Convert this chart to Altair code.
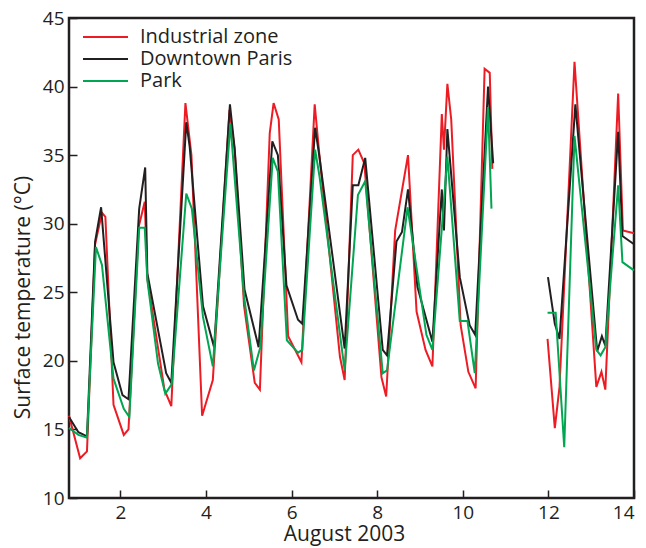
import altair as alt
import pandas as pd

series_names = ["Industrial zone", "Downtown Paris", "Park"]
series_colors = ["#ed1c24", "#231f20", "#00a651"]

industrial_day = [0.80, 1.06, 1.22, 1.41, 1.57, 1.65, 1.84, 2.08, 2.19, 2.43, 2.57, 2.63, 3.03, 3.19,
                  3.52, 3.66, 3.91, 4.16, 4.55, 4.67, 4.89, 5.14, 5.26, 5.49, 5.58, 5.70, 5.92, 6.23,
                  6.54, 6.65, 7.13, 7.24, 7.43, 7.56, 7.70, 8.10, 8.21, 8.42, 8.72, 8.92, 9.13, 9.29,
                  9.51, 9.56, 9.64, 9.73, 9.95, 10.13, 10.30, 10.51, 10.63, 10.69,
                  11.98, 12.15, 12.26, 12.61, 13.12, 13.24, 13.33, 13.63, 13.74, 14.0]
industrial_temp = [16.0, 12.9, 13.4, 28.5, 30.8, 30.5, 16.8, 14.6, 15.0, 29.8, 31.6, 26.0, 17.9, 16.7,
                   38.8, 35.0, 16.0, 18.6, 38.3, 35.4, 24.0, 18.4, 17.9, 36.6, 38.8, 37.6, 21.8, 19.9,
                   38.7, 35.0, 20.3, 18.6, 35.0, 35.4, 34.4, 18.8, 17.4, 29.5, 35.0, 23.6, 20.8, 19.6,
                   38.0, 35.4, 40.2, 37.6, 22.6, 19.2, 18.0, 41.3, 41.0, 34.0,
                   21.6, 15.1, 18.1, 41.8, 18.1, 19.2, 17.9, 39.5, 29.5, 29.3]

downtown_day = [0.80, 1.02, 1.22, 1.41, 1.55, 1.84, 2.05, 2.19, 2.44, 2.58, 2.63, 3.07, 3.19, 3.54,
                3.62, 3.93, 4.19, 4.56, 4.67, 4.90, 5.23, 5.55, 5.68, 5.88, 6.15, 6.25, 6.55, 6.65,
                7.24, 7.43, 7.56, 7.72, 8.13, 8.23, 8.45, 8.58, 8.72, 8.94, 9.29, 9.51, 9.56, 9.64,
                9.93, 10.16, 10.29, 10.59, 10.71,
                11.99, 12.15, 12.26, 12.63, 13.14, 13.25, 13.33, 13.63, 13.73, 14.0]
downtown_temp = [15.9, 14.8, 14.5, 28.7, 31.2, 19.9, 17.5, 17.2, 31.1, 34.1, 26.4, 19.1, 18.4, 37.4,
                 35.6, 24.0, 21.0, 38.7, 35.5, 25.2, 21.0, 36.0, 35.0, 25.5, 23.0, 22.7, 37.0, 34.9,
                 20.9, 32.8, 32.8, 34.8, 20.8, 20.4, 28.7, 29.4, 32.5, 25.4, 21.4, 32.5, 29.5, 36.9,
                 26.1, 22.6, 21.9, 40.0, 34.4,
                 26.1, 22.7, 21.6, 38.7, 20.7, 21.8, 21.1, 36.7, 29.1, 28.5]

park_day = [0.80, 1.02, 1.22, 1.43, 1.57, 1.84, 2.08, 2.21, 2.44, 2.57, 2.63, 2.88, 3.05, 3.20,
            3.54, 3.67, 3.93, 4.16, 4.57, 4.89, 5.12, 5.27, 5.56, 5.68, 5.89, 6.15, 6.25, 6.55,
            6.65, 7.24, 7.55, 7.72, 8.13, 8.23, 8.71, 9.15, 9.29, 9.64, 9.93, 10.11, 10.28, 10.59,
            10.67,
            11.98, 12.17, 12.37, 12.61, 13.12, 13.22, 13.33, 13.63, 13.73, 14.0]
park_temp = [15.1, 14.6, 14.4, 28.3, 27.0, 18.7, 16.5, 15.9, 29.7, 29.7, 25.9, 19.8, 17.6, 18.3,
             32.2, 31.1, 23.2, 19.6, 37.3, 24.7, 19.3, 21.0, 34.8, 33.8, 21.5, 20.6, 20.8, 35.4,
             33.5, 19.3, 32.1, 33.1, 19.1, 19.3, 31.2, 21.9, 20.8, 34.9, 22.9, 22.9, 19.1, 38.5,
             31.1,
             23.5, 23.5, 13.7, 36.4, 20.8, 20.4, 21.0, 32.8, 27.2, 26.6]

x_ticks = [2, 4, 6, 8, 10, 12, 14]
y_ticks = [10, 15, 20, 25, 30, 35, 40, 45]

rows = []
for name, xs, ys in [(series_names[0], industrial_day, industrial_temp),
                     (series_names[1], downtown_day, downtown_temp),
                     (series_names[2], park_day, park_temp)]:
    for d, t in zip(xs, ys):
        rows.append({"day": d, "temp": t, "series": name,
                     "segment": name + ("-a" if d < 11 else "-b")})
df = pd.DataFrame(rows)

FONT = "Open Sans"
AX = "#231f20"

chart = alt.Chart(df).mark_line(strokeWidth=2).encode(
    x=alt.X("day:Q",
            scale=alt.Scale(domain=[0.8, 14], nice=False, zero=False),
            axis=alt.Axis(values=x_ticks, title="August 2003", offset=-8, domain=False,
                          grid=False, tickSize=8, tickWidth=1.5, tickColor=AX,
                          labelPadding=5, labelFontSize=19, labelFont=FONT, labelColor=AX,
                          titleFontSize=21, titleFont=FONT, titleFontWeight="normal",
                          titleColor=AX, titleX=275, titleY=33, titleAlign="center",
                          titleBaseline="top")),
    y=alt.Y("temp:Q",
            scale=alt.Scale(domain=[10, 45], nice=False, zero=False),
            axis=alt.Axis(values=y_ticks, title="Surface temperature (°C)", offset=-8,
                          domain=False, grid=False, tickSize=8, tickWidth=1.5, tickColor=AX,
                          labelPadding=5, labelFontSize=19, labelFont=FONT, labelColor=AX,
                          titleFontSize=21, titleFont=FONT, titleFontWeight="normal",
                          titleColor=AX, titleX=-44, titleY=279, titleAngle=270,
                          titleAlign="center", titleBaseline="bottom")),
    color=alt.Color("series:N",
                    scale=alt.Scale(domain=series_names, range=series_colors),
                    sort=series_names,
                    legend=alt.Legend(title=None, orient="none", legendX=13, legendY=9,
                                      symbolType="M-1,0H4", symbolSize=324,
                                      symbolStrokeWidth=2, labelFontSize=20, labelFont=FONT,
                                      labelColor=AX, labelOffset=38, rowPadding=2)),
    detail="segment:N",
).properties(
    width=565, height=480,
    autosize=alt.AutoSizeParams(type="none"),
    padding={"left": 61, "top": 10, "right": 4, "bottom": 50},
).configure_view(stroke=AX, strokeWidth=2.5)

chart.save("out.html", embed_options={"renderer": "svg", "actions": False})
